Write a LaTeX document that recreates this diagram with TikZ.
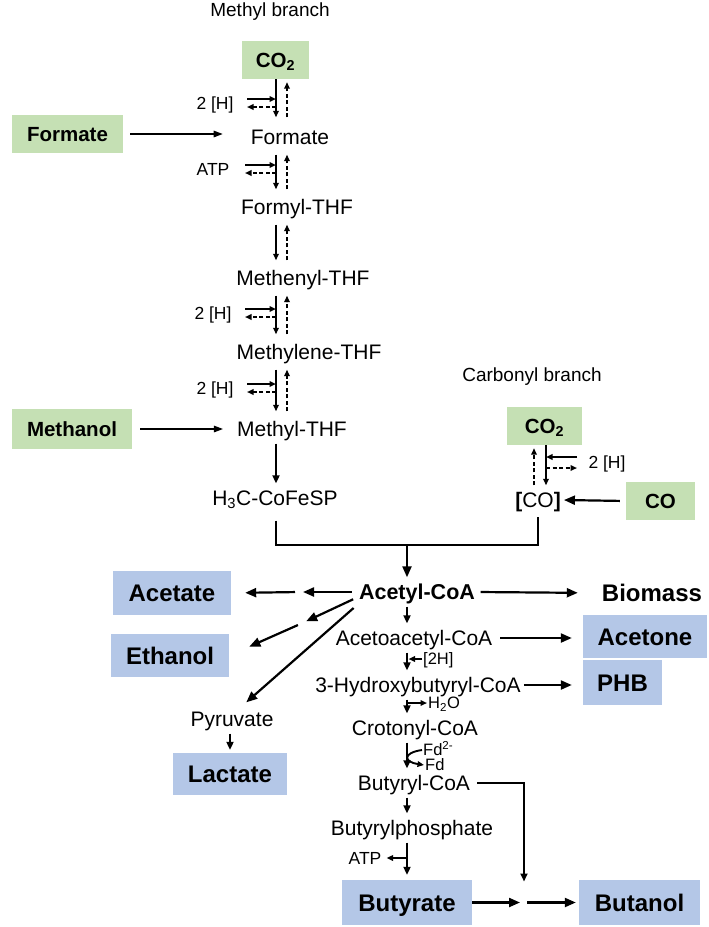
\documentclass[tikz,border=0pt]{standalone}
\usepackage{fontspec}
\setmainfont{Liberation Sans}
\usetikzlibrary{arrows.meta,calc}
\definecolor{boxgreen}{RGB}{197,224,180}
\definecolor{boxblue}{RGB}{180,199,231}

\begin{document}
\begin{tikzpicture}[x=1pt, y=1pt,
    met/.style={font=\fontsize{21}{25}\selectfont, text height=19pt, text depth=4pt, inner sep=3pt},
    metb/.style={met, font=\fontsize{21.5}{25}\selectfont\bfseries},
    prodtxt/.style={font=\fontsize{24}{28}\selectfont\bfseries, text height=21pt, text depth=4pt, inner sep=3pt},
    lbl/.style={font=\fontsize{17.5}{21}\selectfont, text height=16pt, text depth=3.5pt, inner sep=3pt},
    tinylbl/.style={font=\fontsize{16.5}{19}\selectfont, text height=14pt, text depth=3pt, inner sep=1pt},
    ttl/.style={font=\fontsize{19}{22}\selectfont},
    gbox/.style={fill=boxgreen, font=\fontsize{20.5}{24}\selectfont\bfseries, text height=18.6pt, text depth=4pt, inner sep=0pt},
    bbox/.style={fill=boxblue, font=\fontsize{24}{28}\selectfont\bfseries, text height=21pt, text depth=4pt, inner sep=0pt},
    fwd/.style={line width=1.9pt, -{Triangle[length=6.5pt,width=5.5pt]}},
    bwd/.style={fwd, dash pattern=on 4pt off 2.5pt},
    stepto/.style={line width=2pt, -{Triangle[length=8pt,width=7pt]}},
    feed/.style={line width=1.3pt, -{Triangle[length=9pt,width=6.5pt]}},
    prod/.style={line width=2.2pt, -{Triangle[length=11pt,width=9pt]}},
  ]
    \useasboundingbox (0,0) rectangle (709,-927);

    % Methyl branch
    \node[ttl] (mtitle) at (270,-12) {Methyl branch};
    \coordinate (sx) at (276,0);
    \coordinate (dx) at (287,0);
    \node[gbox, minimum width=67pt, minimum height=38pt] (co2m) at (275.5,-60) {CO\textsubscript{2}};
    \node[met] (formate) at (290,-137) {Formate};
    \node[met] (formyl) at (297,-207) {Formyl-THF};
    \node[met] (methenyl) at (303,-278) {Methenyl-THF};
    \node[met] (methylene) at (309,-352) {Methylene-THF};
    \node[met] (methylthf) at (292,-429) {Methyl-THF};
    \node[met] (h3c) at (275,-498) {H\textsubscript{3}C-CoFeSP};
    \node[gbox, minimum width=111pt, minimum height=38pt] (formatebox) at (67.5,-134) {Formate};
    \node[gbox, minimum width=120pt, minimum height=40pt] (methanolbox) at (72,-429) {Methanol};
    \node[lbl] (h1) at (215,-103) {2 [H]};
    \node[lbl] (atp1) at (213,-169) {ATP};
    \node[lbl] (h2) at (213,-313) {2 [H]};
    \node[lbl] (h3) at (215,-388) {2 [H]};

    \draw[fwd, shorten >=5pt] (co2m.south -| sx) -- (formate.north -| sx);
    \draw[bwd, shorten <=5pt, shorten >=3pt] (formate.north -| dx) -- (co2m.south -| dx);
    \foreach \a/\b in {formate/formyl, formyl/methenyl, methenyl/methylene, methylene/methylthf} {
        \draw[fwd, shorten <=3pt, shorten >=3pt] (\a.south -| sx) -- (\b.north -| sx);
        \draw[bwd, shorten <=3pt, shorten >=3pt] (\b.north -| dx) -- (\a.south -| dx);
    }
    \foreach \h in {h1, atp1, h2, h3} {
        \draw[fwd] ($(\h)+(32,4)$) -- ($(\h -| sx)+(0,4)$);
        \draw[bwd] ($(\h -| sx)+(0,-4)$) -- ($(\h)+(32,-4)$);
    }
    \draw[stepto] (methylthf.south -| sx) -- (h3c.north -| sx);
    \draw[feed, shorten <=7pt, shorten >=25pt] (formatebox.east) -- (formatebox.east -| formate.west);
    \draw[feed, shorten <=8pt, shorten >=11pt] (methanolbox.east) -- (methanolbox.east -| methylthf.west);

    % Carbonyl branch
    \node[ttl] (ctitle) at (532,-377) {Carbonyl branch};
    \coordinate (cs) at (546,0);
    \coordinate (cd) at (534,0);
    \node[gbox, minimum width=75pt, minimum height=38pt] (co2c) at (544.5,-426) {CO\textsubscript{2}};
    \node[met] (co) at (538,-500) {\textbf{[}CO\textbf{]}};
    \node[gbox, minimum width=69pt, minimum height=38pt] (cobox) at (660.5,-501) {CO};
    \node[lbl] (h5) at (607,-462) {2 [H]};
    \draw[fwd] (co2c.south -| cs) -- (co.north -| cs);
    \draw[bwd, shorten >=3pt] (co.north -| cd) -- (co2c.south -| cd);
    \draw[fwd] ($(h5)+(-30,5)$) -- ($(h5 -| cs)+(0,5)$);
    \draw[bwd] ($(h5 -| cs)+(0,-6)$) -- ($(h5)+(-30,-6)$);
    \draw[prod, shorten <=6pt] (cobox.west) -- (co.east);

    % Acetyl-CoA and products
    \coordinate (jl) at (407,-545);
    \coordinate (cx) at (407,0);
    \draw[line width=2pt, shorten <=8pt, shorten >=2pt] (h3c.south -| sx) |- (jl) -| (co.south);
    \node[metb] (acetyl) at (417,-592) {Acetyl-CoA};
    \draw[prod] (jl) -- (acetyl.north -| jl);
    \node[met] (acetoacetyl) at (414,-638) {Acetoacetyl-CoA};
    \node[met] (hydroxy) at (418,-685) {3-Hydroxybutyryl-CoA};
    \node[met] (crotonyl) at (415,-728) {Crotonyl-CoA};
    \node[met] (butyryl) at (414,-783) {Butyryl-CoA};
    \node[met] (butyrylp) at (412,-828) {Butyrylphosphate};
    \node[bbox, minimum width=130pt, minimum height=45pt] (butyrate) at (407,-902.5) {Butyrate};
    \foreach \a/\b in {acetyl/acetoacetyl, acetoacetyl/hydroxy, hydroxy/crotonyl, crotonyl/butyryl, butyryl/butyrylp}
        \draw[stepto] (\a.south -| cx) -- (\b.north -| cx);
    \draw[stepto, shorten >=5pt] (butyrylp.south -| cx) -- (butyrate.north -| cx);

    \node[tinylbl, anchor=west] (h2h) at (422,-659) {[2H]};
    \draw[fwd, shorten >=1.5pt] (h2h.west) -- (h2h.west -| cx);
    \node[tinylbl, anchor=west] (h2o) at (427,-703) {H\textsubscript{2}O};
    \draw[fwd] (h2o.west -| cx) -- (h2o.west);
    \node[tinylbl, anchor=west] (fdin) at (422,-750) {Fd\textsuperscript{2-}};
    \node[tinylbl, anchor=west] (fdout) at (424,-765) {Fd};
    \draw[fwd] (fdin.west) .. controls +(-20,-3) and +(-20,3) .. (fdout.west);
    \node[lbl] (atp2) at (365,-858) {ATP};
    \draw[fwd, shorten >=2pt] (atp2.east -| cx) -- (atp2.east);

    \coordinate (am) at (299,-592);
    \coordinate (em) at (302.5,-623);
    \node[bbox, minimum width=118pt, minimum height=44pt] (acetate) at (172,-593) {Acetate};
    \node[bbox, minimum width=118pt, minimum height=43pt] (ethanol) at (170,-655.5) {Ethanol};
    \node[met] (pyruvate) at (232,-719) {Pyruvate};
    \node[bbox, minimum width=114pt, minimum height=42pt] (lactate) at (230,-774) {Lactate};
    \draw[prod, shorten <=4pt, shorten >=4pt] (acetyl.west) -- (am);
    \draw[prod, shorten <=4pt, shorten >=14pt] (am) -- (acetate.east);
    \draw[prod, shorten <=3pt, shorten >=4pt] ([yshift=-6pt]acetyl.west) -- (em);
    \draw[prod, shorten <=5pt, shorten >=22pt] (em) -- (ethanol.east);
    \draw[prod, shorten <=3pt, shorten >=3pt] ([yshift=-14pt]acetyl.west) -- ([xshift=12pt]pyruvate.north);
    \draw[stepto, shorten >=3pt] (pyruvate.south -| lactate) -- (lactate.north);

    \node[prodtxt] (biomass) at (652,-593) {Biomass};
    \node[bbox, minimum width=124pt, minimum height=43pt] (acetone) at (645,-636.5) {Acetone};
    \node[bbox, minimum width=79pt, minimum height=45pt] (phb) at (622.5,-682.5) {PHB};
    \draw[prod, shorten <=2.5pt, shorten >=21pt] (acetyl.east) -- (biomass.west);
    \draw[prod, shorten <=5pt, shorten >=11pt] (acetoacetyl.east) -- (acetoacetyl.east -| acetone.west);
    \draw[prod, shorten >=11pt] (hydroxy.east) -- (hydroxy.east -| phb.west);

    \coordinate (bm) at (524,-902.5);
    \node[bbox, minimum width=121pt, minimum height=45pt] (butanol) at (639.5,-902.5) {Butanol};
    \draw[prod, shorten >=4pt] (butyrate.east) -- (bm);
    \draw[prod, shorten <=3pt, shorten >=3pt] (bm) -- (butanol.west);
    \draw[stepto, shorten <=4pt, shorten >=21pt] (butyryl.east) -| (bm);

\end{tikzpicture}
\end{document}
